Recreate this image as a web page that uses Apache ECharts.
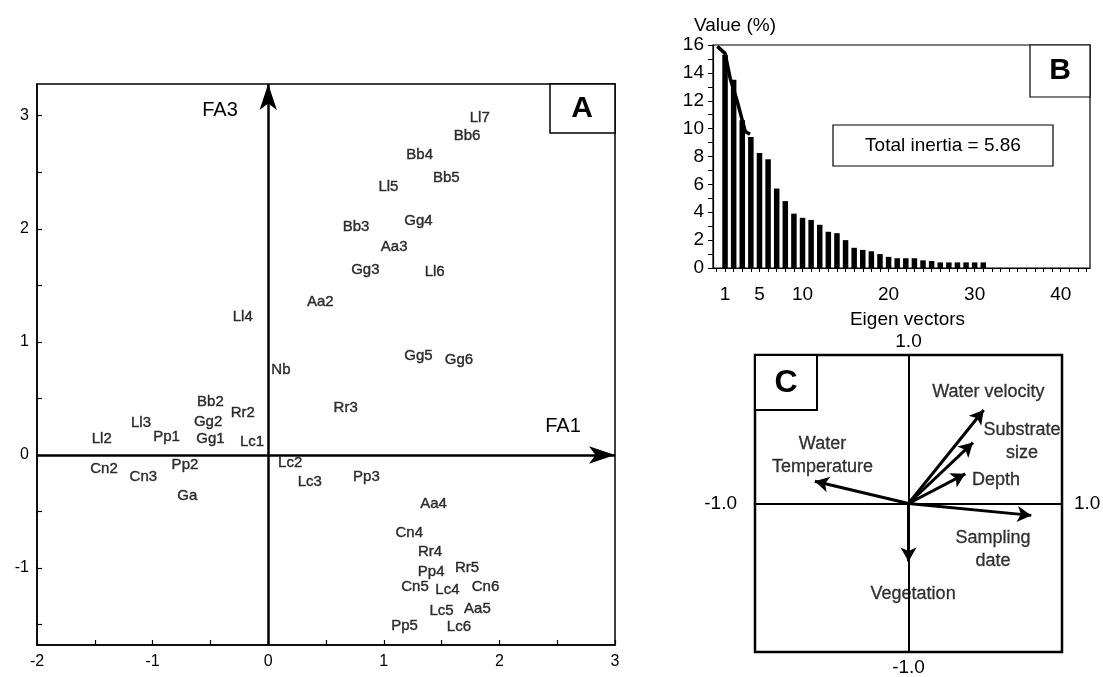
<!DOCTYPE html>
<html>
<head>
<meta charset="utf-8">
<title>Factor analysis</title>
<script src="https://cdn.jsdelivr.net/npm/echarts@6/dist/echarts.min.js"></script>
<style>
  html, body { margin: 0; padding: 0; background: #fff; }
  #chart { width: 1103px; height: 677px; }
</style>
</head>
<body>
<div id="chart"></div>
<script>
// --- panel A: scores on FA1 / FA3
var speciesNames = ['Ll7', 'Bb6', 'Bb4', 'Bb5', 'Ll5', 'Gg4', 'Bb3', 'Aa3', 'Gg3', 'Ll6', 'Aa2', 'Gg5', 'Gg6',
  'Ll4', 'Nb', 'Bb2', 'Rr2', 'Ll3', 'Gg2', 'Ll2', 'Pp1', 'Gg1', 'Lc1', 'Cn2', 'Cn3', 'Pp2', 'Ga',
  'Lc2', 'Lc3', 'Rr3', 'Pp3', 'Aa4', 'Cn4', 'Rr4', 'Pp4', 'Rr5', 'Cn5', 'Lc4', 'Cn6', 'Lc5', 'Aa5', 'Pp5', 'Lc6'];
var fa1Scores = [1.83, 1.72, 1.31, 1.54, 1.04, 1.30, 0.76, 1.09, 0.84, 1.44, 0.45, 1.30, 1.65,
  -0.22, 0.11, -0.50, -0.22, -1.10, -0.52, -1.44, -0.88, -0.50, -0.14, -1.42, -1.08, -0.72, -0.70,
  0.19, 0.36, 0.67, 0.85, 1.43, 1.22, 1.40, 1.41, 1.72, 1.27, 1.55, 1.88, 1.50, 1.81, 1.18, 1.65];
var fa3Scores = [2.98, 2.82, 2.65, 2.45, 2.37, 2.07, 2.02, 1.84, 1.64, 1.62, 1.35, 0.88, 0.84,
  1.22, 0.75, 0.47, 0.37, 0.28, 0.29, 0.14, 0.16, 0.14, 0.12, -0.12, -0.19, -0.09, -0.36,
  -0.07, -0.24, 0.42, -0.19, -0.43, -0.69, -0.86, -1.03, -1.00, -1.17, -1.19, -1.17, -1.38, -1.36, -1.51, -1.52];
var fa1Range = [-2, 3];
var fa3Range = [-1.68, 3.28];
var fa1Ticks = [-2, -1, 0, 1, 2, 3];
var fa3Ticks = [-1, 0, 1, 2, 3];

// --- panel B: eigen values (%)
var eigenValues = [15.3, 13.5, 10.6, 9.4, 8.25, 7.8, 5.7, 4.8, 3.9, 3.6, 3.45, 3.1, 2.6, 2.5, 2.0,
  1.45, 1.3, 1.2, 1.0, 0.8, 0.7, 0.7, 0.7, 0.55, 0.5, 0.4, 0.4, 0.4, 0.4, 0.4, 0.4];
var curveX = [0.1, 1, 1.6, 2.4, 3, 3.35, 3.9];
var curveY = [15.9, 15.4, 13.6, 12.0, 10.6, 9.8, 9.6];
var eigenTicks = [1, 5, 10, 20, 30, 40];
var valueTicks = [0, 2, 4, 6, 8, 10, 12, 14, 16];

// --- panel C: variable loadings
var varNames = ['Water velocity', 'Substrate\nsize', 'Depth', 'Water\nTemperature', 'Sampling\ndate', 'Vegetation'];
var loadX = [0.49, 0.42, 0.37, -0.61, 0.80, 0.0];
var loadY = [0.63, 0.41, 0.20, 0.15, -0.08, -0.39];
var labelX = [0.52, 0.74, 0.57, -0.56, 0.55, 0.03];
var labelY = [0.75, 0.42, 0.16, 0.32, -0.31, -0.61];

var FONT = '"Liberation Sans", Arial, Helvetica, sans-serif';
var BLACK = '#000';

function steps(a, b, s) {
  var out = [];
  for (var v = a; v <= b + 1e-9; v += s) out.push(+v.toFixed(2));
  return out;
}
function arrowLine(from, to) {
  return [{ coord: from }, { coord: to }];
}

var chart = echarts.init(document.getElementById('chart'));

var option = {
  backgroundColor: '#fff',
  animation: false,
  textStyle: { fontFamily: FONT, color: BLACK },
  grid: [
    { left: 37, top: 84, width: 578, height: 561, show: true, borderColor: BLACK, borderWidth: 1.5 },
    { left: 713, top: 45, width: 377, height: 223, show: true, borderColor: BLACK, borderWidth: 1.2 },
    { left: 755, top: 355, width: 307, height: 300, show: true, borderColor: BLACK, borderWidth: 2.5 }
  ],
  xAxis: [
    {
      gridIndex: 0, type: 'value', min: fa1Range[0], max: fa1Range[1],
      axisLine: { onZero: false, lineStyle: { color: BLACK, width: 1.5 } },
      axisTick: { inside: true, length: 5, customValues: steps(-2, 3, 0.5), lineStyle: { color: BLACK, width: 1.2 } },
      axisLabel: { customValues: fa1Ticks, color: BLACK, fontSize: 16, margin: 9, fontFamily: FONT },
      splitLine: { show: false }
    },
    {
      gridIndex: 1, type: 'value', min: -0.4, max: 43.4,
      axisLine: { onZero: false, lineStyle: { color: BLACK, width: 1.2 } },
      axisTick: { length: 4, customValues: steps(0, 43, 1), lineStyle: { color: BLACK } },
      axisLabel: { customValues: eigenTicks, color: BLACK, fontSize: 19, margin: 17, fontFamily: FONT },
      splitLine: { show: false },
      name: 'Eigen vectors', nameLocation: 'middle', nameGap: 42,
      nameTextStyle: { color: BLACK, fontSize: 19, fontFamily: FONT, padding: [0, 0, 0, 12] }
    },
    {
      gridIndex: 2, type: 'value', min: -1, max: 1,
      axisLine: { onZero: true, lineStyle: { color: BLACK, width: 2 } },
      axisTick: { show: false }, axisLabel: { show: false }, splitLine: { show: false },
      name: '1.0', nameLocation: 'end', nameGap: 12,
      nameTextStyle: { color: BLACK, fontSize: 19, fontFamily: FONT }
    },
    {
      gridIndex: 2, type: 'value', min: -1, max: 1,
      axisLine: { onZero: true, lineStyle: { color: BLACK, width: 2 } },
      axisTick: { show: false }, axisLabel: { show: false }, splitLine: { show: false },
      name: '-1.0', nameLocation: 'start', nameGap: 18,
      nameTextStyle: { color: BLACK, fontSize: 19, fontFamily: FONT }
    }
  ],
  yAxis: [
    {
      gridIndex: 0, type: 'value', min: fa3Range[0], max: fa3Range[1],
      axisLine: { onZero: false, lineStyle: { color: BLACK, width: 1.5 } },
      axisTick: { inside: true, length: 5, customValues: steps(-1.5, 3, 0.5), lineStyle: { color: BLACK, width: 1.2 } },
      axisLabel: { customValues: fa3Ticks, color: BLACK, fontSize: 16, margin: 8, fontFamily: FONT },
      splitLine: { show: false }
    },
    {
      gridIndex: 1, type: 'value', min: 0, max: 16,
      axisLine: { onZero: false, lineStyle: { color: BLACK, width: 1.2 } },
      axisTick: { length: 5, customValues: steps(0, 16, 1), lineStyle: { color: BLACK } },
      axisLabel: { customValues: valueTicks, color: BLACK, fontSize: 19, margin: 9, fontFamily: FONT },
      splitLine: { show: false },
      name: 'Value (%)', nameLocation: 'end', nameGap: 8,
      nameTextStyle: { color: BLACK, fontSize: 19, fontFamily: FONT, padding: [0, 0, 0, 44] }
    },
    {
      gridIndex: 2, type: 'value', min: -1, max: 1,
      axisLine: { onZero: true, lineStyle: { color: BLACK, width: 2 } },
      axisTick: { show: false }, axisLabel: { show: false }, splitLine: { show: false },
      name: '1.0', nameLocation: 'end', nameGap: 4,
      nameTextStyle: { color: BLACK, fontSize: 19, fontFamily: FONT }
    },
    {
      gridIndex: 2, type: 'value', min: -1, max: 1,
      axisLine: { onZero: true, lineStyle: { color: BLACK, width: 2 } },
      axisTick: { show: false }, axisLabel: { show: false }, splitLine: { show: false },
      name: '-1.0', nameLocation: 'start', nameGap: 6,
      nameTextStyle: { color: BLACK, fontSize: 19, fontFamily: FONT }
    }
  ],
  series: [
    {
      type: 'scatter', xAxisIndex: 0, yAxisIndex: 0,
      symbolSize: 0, itemStyle: { color: BLACK }, silent: true,
      data: speciesNames.map(function (n, i) { return { name: n, value: [fa1Scores[i], fa3Scores[i]] }; }),
      label: {
        show: true, position: 'inside', formatter: '{b}', color: BLACK, fontSize: 15, fontFamily: FONT,
        textBorderColor: BLACK, textBorderWidth: 0.4
      },
      markLine: {
        silent: true, animation: false,
        symbol: ['none', 'arrow'], symbolSize: [13, 26],
        lineStyle: { color: BLACK, width: 2.5, type: 'solid' },
        label: { show: false }, emphasis: { disabled: true },
        data: [
          arrowLine([fa1Range[0], 0], [fa1Range[1], 0]),
          arrowLine([0, fa3Range[0]], [0, fa3Range[1]])
        ]
      }
    },
    {
      type: 'bar', xAxisIndex: 1, yAxisIndex: 1, barWidth: 5.5, silent: true,
      itemStyle: { color: BLACK },
      data: eigenValues.map(function (v, i) { return [i + 1, v]; })
    },
    {
      type: 'line', xAxisIndex: 1, yAxisIndex: 1, symbol: 'none', silent: true,
      lineStyle: { color: BLACK, width: 3.5 },
      data: curveX.map(function (x, i) { return [x, curveY[i]]; })
    },
    {
      type: 'scatter', xAxisIndex: 2, yAxisIndex: 2,
      symbolSize: 0, itemStyle: { color: BLACK }, silent: true,
      data: varNames.map(function (n, i) { return { name: n, value: [labelX[i], labelY[i]] }; }),
      label: {
        show: true, position: 'inside', formatter: '{b}', color: BLACK, fontSize: 18, lineHeight: 23,
        align: 'center', fontFamily: FONT, textBorderColor: BLACK, textBorderWidth: 0.3
      },
      markLine: {
        silent: true, animation: false,
        symbol: ['none', 'arrow'], symbolSize: [12, 14],
        lineStyle: { color: BLACK, width: 3, type: 'solid' },
        label: { show: false }, emphasis: { disabled: true },
        data: loadX.map(function (x, i) { return arrowLine([0, 0], [x, loadY[i]]); })
      }
    }
  ],
  graphic: [
    { type: 'rect', z: 10, shape: { x: 550, y: 84, width: 65, height: 49 }, style: { fill: '#fff', stroke: BLACK, lineWidth: 1.5 } },
    { type: 'text', z: 11, x: 582, y: 109, style: { text: 'A', font: 'bold 30px ' + FONT, fill: BLACK, textAlign: 'center', textVerticalAlign: 'middle' } },
    { type: 'text', z: 11, x: 220, y: 110, style: { text: 'FA3', font: '20px ' + FONT, fill: BLACK, textAlign: 'center', textVerticalAlign: 'middle' } },
    { type: 'text', z: 11, x: 563, y: 426, style: { text: 'FA1', font: '20px ' + FONT, fill: BLACK, textAlign: 'center', textVerticalAlign: 'middle' } },
    { type: 'rect', z: 10, shape: { x: 1030, y: 45, width: 60, height: 52 }, style: { fill: '#fff', stroke: BLACK, lineWidth: 1.2 } },
    { type: 'text', z: 11, x: 1060, y: 71, style: { text: 'B', font: 'bold 30px ' + FONT, fill: BLACK, textAlign: 'center', textVerticalAlign: 'middle' } },
    { type: 'rect', z: 10, shape: { x: 833, y: 125, width: 220, height: 41 }, style: { fill: '#fff', stroke: BLACK, lineWidth: 1.2 } },
    { type: 'text', z: 11, x: 943, y: 146, style: { text: 'Total inertia = 5.86', font: '19px ' + FONT, fill: BLACK, textAlign: 'center', textVerticalAlign: 'middle' } },
    { type: 'rect', z: 10, shape: { x: 755, y: 355, width: 62, height: 55 }, style: { fill: '#fff', stroke: BLACK, lineWidth: 2 } },
    { type: 'text', z: 11, x: 786, y: 383, style: { text: 'C', font: 'bold 32px ' + FONT, fill: BLACK, textAlign: 'center', textVerticalAlign: 'middle' } }
  ]
};

chart.setOption(option);
</script>
</body>
</html>
